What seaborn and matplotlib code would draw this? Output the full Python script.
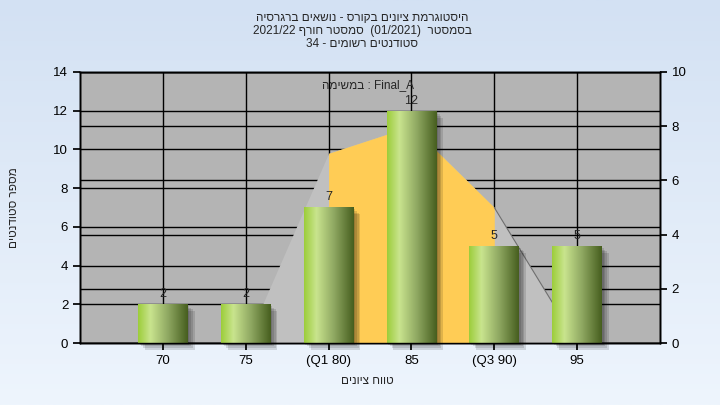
import numpy as np
import matplotlib
matplotlib.use("Agg")
import matplotlib.pyplot as plt
import matplotlib.transforms as mtransforms
from matplotlib.colors import LinearSegmentedColormap
from matplotlib.patches import Rectangle
import seaborn as sns
import pandas as pd

# dados
categories = ["70", "75", "80", "85", "90", "95"]
tick_labels = ["70", "75", "(Q1 80)", "85", "(Q3 90)", "95"]
students = [2, 2, 7, 12, 5, 5]
curve = [0, 0, 7, 8, 5, 0]   # curva no eixo da direita (0-10)
q1_idx, q3_idx = 2, 4


def heb(s):
    # matplotlib nao faz bidi: inverte o texto hebraico
    return s[::-1]


sns.set_theme(style="ticks")
plt.rcParams['font.family'] = ['Liberation Sans', 'DejaVu Sans']

fig = plt.figure(figsize=(7.2, 4.05), dpi=100)

# fundo em degrade azul claro
bg = fig.add_axes([0, 0, 1, 1], zorder=-10)
bg_cmap = LinearSegmentedColormap.from_list('bg', ['#d3e1f3', '#eef5fd'])
bg.imshow(np.linspace(0, 1, 256).reshape(-1, 1), aspect='auto', cmap=bg_cmap,
          extent=[0, 1, 0, 1], origin='upper')
bg.axis('off')

rect = [80 / 720, 62 / 405, 580 / 720, 271 / 405]
ax = fig.add_axes(rect)
ax.set_facecolor('#b4b4b4')
ax.set_axisbelow(True)
ax.grid(True, color='black', lw=1)

# curva (eixo da direita)
ax2 = ax.twinx()
ax2.set_axisbelow(True)
ax2.grid(True, axis='y', color='black', lw=1)
x = np.arange(len(categories))
ax2.fill_between(x, curve, color='#c0c0c0', lw=0, zorder=2)
ax2.fill_between(x[q1_idx:q3_idx + 1], curve[q1_idx:q3_idx + 1],
                 color='#ffcc55', lw=0, zorder=3)
ax2.plot(x[q3_idx:], curve[q3_idx:], color='#6e6e6e', lw=0.8, zorder=4)
ax2.plot(x[:2], curve[:2], color='#8a8a8a', lw=0.8, zorder=4)

# barras
ax3 = ax.twinx()
df = pd.DataFrame({'grade': categories, 'students': students})
sns.barplot(data=df, x='grade', y='students', ax=ax3, color='#9bcb3c',
            width=0.6, saturation=1, linewidth=0, edgecolor='none')

bar_cmap = LinearSegmentedColormap.from_list(
    'bar', [(0, '#9ccd3a'), (0.25, '#c9e48e'), (0.6, '#8fa862'), (1, '#465e1e')])
for bar in list(ax3.patches):
    x0, y0 = bar.get_x(), bar.get_y()
    w, h = bar.get_width(), bar.get_height()
    # sombra
    for k in range(1, 5):
        off = mtransforms.offset_copy(ax3.transData, fig=fig, x=k * 1.7, y=-k * 1.7, units='dots')
        ax3.add_patch(Rectangle((x0, y0), w, h, transform=off, color='black',
                                alpha=0.12, lw=0, zorder=bar.get_zorder() - 0.5, clip_on=False))
    im = ax3.imshow(np.linspace(0, 1, 256).reshape(1, -1), cmap=bar_cmap, aspect='auto',
                    extent=[x0, x0 + w, y0, y0 + h], zorder=bar.get_zorder() + 0.1)
    im.set_clip_path(bar)

ax3.bar_label(ax3.containers[0], padding=3, fontsize=9, zorder=10)

ax.set_xlim(-1, len(categories))
ax.set_ylim(0, 14)
ax3.set_ylim(0, 14)
ax2.set_ylim(0, 10)
ax.set_yticks(range(0, 15, 2))
ax2.set_yticks(range(0, 11, 2))
ax3.yaxis.set_visible(False)
ax.set_xticks(x, tick_labels)
ax3.set_xlabel('')

for a in (ax, ax2, ax3):
    for s in a.spines.values():
        s.set_color('black')
        s.set_linewidth(1)
ax.tick_params(axis='both', direction='out', length=5, color='black', labelsize=9.5, labelcolor='black')
ax2.tick_params(axis='y', direction='out', length=5, color='black', labelsize=9.5, labelcolor='black')

ax.set_ylabel(heb("מספר סטודנטים"), fontsize=8.5)
ax.yaxis.set_label_coords(-0.103, 0.5)
ax.set_xlabel('')
fig.text(367 / 720, 1 - 381 / 405, heb("טווח ציונים"), ha='center', va='center', fontsize=8.5)

ax.text(0.497, 0.952, heb("במשימה") + " : Final_A", transform=ax.transAxes,
        ha='center', va='center', fontsize=8.5, zorder=20)

# titulo em tres linhas
fig.text(0.503, 1 - 18 / 405, heb("היסטוגרמת ציונים בקורס - נושאים ברגרסיה"),
         ha='center', va='center', fontsize=8.5)
fig.text(0.503, 1 - 31 / 405, "2021/22 " + heb("סמסטר חורף") + "  (01/2021)  " + heb("בסמסטר"),
         ha='center', va='center', fontsize=8.5)
fig.text(0.503, 1 - 44 / 405, "34 - " + heb("סטודנטים רשומים"),
         ha='center', va='center', fontsize=8.5)

fig.savefig('out.png', dpi=100)
